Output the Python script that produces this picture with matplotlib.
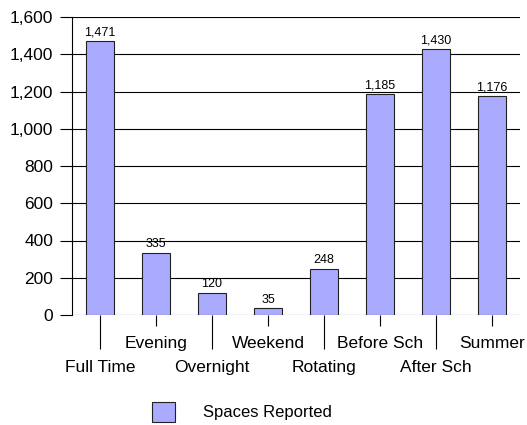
import matplotlib
matplotlib.use("Agg")
from matplotlib import pyplot as plt
from matplotlib.patches import Patch

categories = ["Full Time", "Evening", "Overnight", "Weekend", "Rotating",
              "Before Sch", "After Sch", "Summer"]
spaces = [1471, 335, 120, 35, 248, 1185, 1430, 1176]
yticks = [0, 200, 400, 600, 800, 1000, 1200, 1400, 1600]

plt.rcParams['font.family'] = ['Liberation Sans', 'DejaVu Sans']

fig = plt.figure(figsize=(5.27, 4.25), dpi=100)
ax = fig.add_axes([72/527, 1-315/425, 448/527, 298/425])

x = list(range(len(categories)))
bars = ax.bar(x, spaces, width=0.5, color='#aaaaff', edgecolor='#222222',
              linewidth=0.8, zorder=3)
for b, v in zip(bars, spaces):
    ax.text(b.get_x() + b.get_width()/2, v + 14, f"{v:,}", ha='center',
            va='bottom', fontsize=9, zorder=4)

ax.set_xlim(-0.5, len(categories) - 0.5)
ax.set_ylim(0, 1600)
ax.set_yticks(yticks)
ax.set_yticklabels([f"{t:,}" for t in yticks], fontsize=12.5)
ax.grid(axis='y', color='black', linewidth=0.8, zorder=1)
ax.tick_params(axis='y', length=8.6, width=0.8, pad=5)

# lower row labels on major ticks, upper row on minor ticks
ax.set_xticks(x[0::2], labels=categories[0::2], fontsize=12.5)
ax.set_xticks(x[1::2], labels=categories[1::2], minor=True, fontsize=12.5)
ax.tick_params(axis='x', which='major', length=24.5, width=0.8, pad=8)
ax.tick_params(axis='x', which='minor', length=8, width=0.8, pad=7)

for s in ['top', 'right', 'bottom']:
    ax.spines[s].set_visible(False)
ax.spines['left'].set_linewidth(0.8)

fig.legend(handles=[Patch(facecolor='#aaaaff', edgecolor='#222222', linewidth=0.8)],
           labels=["Spaces Reported"], loc='center', bbox_to_anchor=(242/527, 1-412/425),
           frameon=False, fontsize=12, handlelength=1.4, handleheight=1.5,
           handletextpad=1.7)

fig.savefig("out.png", dpi=100)
